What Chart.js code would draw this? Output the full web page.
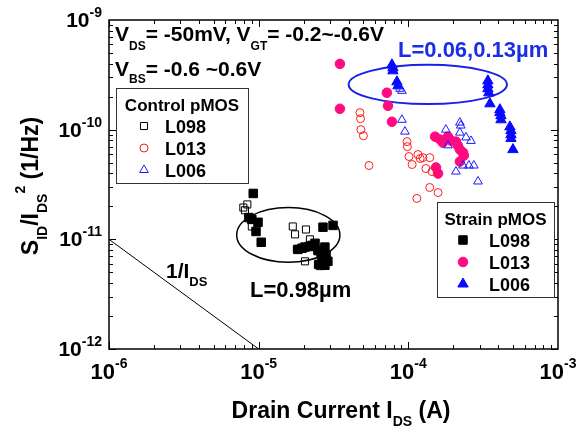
<!DOCTYPE html>
<html>
<head>
<meta charset="utf-8">
<script src="https://cdn.jsdelivr.net/npm/chart.js@4.4.0/dist/chart.umd.min.js"></script>
<style>
  html, body { margin: 0; padding: 0; background: #fff; }
  #wrap { width: 583px; height: 432px; }
</style>
</head>
<body>
<div id="wrap"><canvas id="noiseChart" width="583" height="432"></canvas></div>
<script>
// --- axis ranges / tick labels (decade exponents) ---
const xMin = 1e-6, xMax = 1e-3;
const yMin = 1e-12, yMax = 1e-9;
const xTickExps = [-6, -5, -4, -3];
const yTickExps = [-9, -10, -11, -12];

// --- Control pMOS (open markers) ---
const ctrlL098_I = [8.4e-6, 7.9e-6, 8.1e-6, 9.0e-6, 1.69e-5, 1.75e-5, 2.07e-5, 2.20e-5, 1.80e-5, 2.04e-5, 2.49e-5, 2.57e-5];
const ctrlL098_S = [2.08e-11, 1.95e-11, 1.84e-11, 1.31e-11, 1.31e-11, 1.11e-11, 1.23e-11, 1.0e-11, 8.1e-12, 6.3e-12, 5.9e-12, 5.7e-12];

const ctrlL013_I = [4.75e-5, 4.79e-5, 4.82e-5, 5.01e-5, 5.46e-5, 9.8e-5, 9.86e-5, 1.01e-4, 1.06e-4, 1.16e-4, 1.20e-4, 1.25e-4, 1.39e-4, 1.31e-4, 1.44e-4, 1.39e-4, 1.58e-4, 1.14e-4];
const ctrlL013_S = [1.43e-10, 1.26e-10, 1.0e-10, 8.8e-11, 4.71e-11, 7.78e-11, 7.0e-11, 5.69e-11, 4.81e-11, 5.93e-11, 5.45e-11, 5.56e-11, 5.56e-11, 4.42e-11, 4.15e-11, 2.97e-11, 2.67e-11, 2.36e-11];

const ctrlL006_I = [8.8e-5, 9.06e-5, 9.06e-5, 9.49e-5, 1.78e-4, 2.21e-4, 2.24e-4, 2.21e-4, 2.43e-4, 2.62e-4, 1.84e-4, 2.08e-4, 2.32e-4, 2.54e-4, 2.74e-4, 2.92e-4];
const ctrlL006_S = [2.36e-10, 2.26e-10, 1.23e-10, 9.6e-11, 1.0e-10, 1.16e-10, 1.09e-10, 9.4e-11, 8.5e-11, 7.9e-11, 7.2e-11, 4.15e-11, 4.71e-11, 4.71e-11, 4.71e-11, 3.37e-11];

// --- Strain pMOS (filled markers) ---
const strL098_I = [9.2e-6, 8.6e-6, 9.0e-6, 9.9e-6, 9.6e-6, 1.04e-5, 2.69e-5, 3.14e-5, 1.83e-5, 1.95e-5, 2.04e-5, 2.17e-5, 2.27e-5, 2.38e-5, 2.49e-5, 2.61e-5, 2.77e-5, 2.82e-5, 2.65e-5, 2.90e-5, 2.53e-5, 2.77e-5];
const strL098_S = [2.62e-11, 1.58e-11, 1.52e-11, 1.43e-11, 1.18e-11, 9.4e-12, 1.29e-11, 1.34e-11, 8.1e-12, 8.3e-12, 8.5e-12, 8.6e-12, 8.8e-12, 9.2e-12, 7.9e-12, 7.6e-12, 8.5e-12, 7.2e-12, 6.6e-12, 6.3e-12, 5.9e-12, 5.8e-12];

const strL013_I = [3.49e-5, 3.49e-5, 7.19e-5, 7.31e-5, 7.77e-5, 1.51e-4, 1.63e-4, 1.70e-4, 1.84e-4, 1.93e-4, 2.08e-4, 2.14e-4, 2.21e-4, 2.32e-4, 2.35e-4, 2.21e-4, 1.53e-4, 1.58e-4];
const strL013_S = [3.98e-10, 1.55e-10, 2.17e-10, 1.65e-10, 1.18e-10, 8.63e-11, 8.11e-11, 7.62e-11, 8.63e-11, 7.94e-11, 7.78e-11, 7.16e-11, 6.58e-11, 6.18e-11, 5.81e-11, 5.12e-11, 4.52e-11, 3.98e-11];

const strL006_I = [7.77e-5, 7.89e-5, 7.89e-5, 8.39e-5, 8.53e-5, 3.40e-4, 3.40e-4, 3.40e-4, 3.45e-4, 3.51e-4, 4.09e-4, 4.09e-4, 4.16e-4, 4.16e-4, 4.77e-4, 4.85e-4, 4.85e-4, 4.85e-4, 5.0e-4];
const strL006_S = [3.90e-10, 3.66e-10, 3.44e-10, 2.73e-10, 2.51e-10, 2.79e-10, 2.56e-10, 2.36e-10, 2.17e-10, 1.72e-10, 1.52e-10, 1.43e-10, 1.34e-10, 1.23e-10, 1.06e-10, 9.8e-11, 9.0e-11, 8.3e-11, 6.58e-11];

// 1/I_DS reference slope
const invLine_I = [1e-6, 1e-5];
const invLine_S = [1e-11, 1e-12];

const FONT = '"Liberation Sans", Arial, Helvetica, sans-serif';
const font = px => `bold ${px}px ${FONT}`;
const toPts = (xs, ys) => xs.map((x, i) => ({ x, y: ys[i] }));

// draws a run of text pieces [text, size, dy] one after another
const drawRich = (ctx, parts, x, y, align = 'left') => {
    let total = 0;
    parts.forEach(p => { ctx.font = font(p[1]); total += ctx.measureText(p[0]).width; });
    let cx = align === 'center' ? x - total / 2 : align === 'right' ? x - total : x;
    ctx.textAlign = 'left';
    ctx.textBaseline = 'alphabetic';
    parts.forEach(p => {
        ctx.font = font(p[1]);
        ctx.fillText(p[0], cx, y + (p[2] || 0));
        cx += ctx.measureText(p[0]).width;
    });
};

// same geometry as Chart.js point styles
const drawMarker = (ctx, style, r, x, y, fill, stroke, lw) => {
    ctx.beginPath();
    if (style === 'circle') {
        ctx.arc(x, y, r, 0, Math.PI * 2);
    } else if (style === 'rect') {
        const s = Math.SQRT1_2 * r;
        ctx.rect(x - s, y - s, 2 * s, 2 * s);
    } else {
        for (let k = 0; k < 3; k++) {
            const a = k * 2 * Math.PI / 3;
            const px = x + Math.sin(a) * r, py = y - Math.cos(a) * r;
            k === 0 ? ctx.moveTo(px, py) : ctx.lineTo(px, py);
        }
        ctx.closePath();
    }
    ctx.fillStyle = fill;
    ctx.fill();
    ctx.lineWidth = lw;
    ctx.strokeStyle = stroke;
    ctx.stroke();
};

const series = [
    { label: 'L098', group: 'ctrl', I: ctrlL098_I, S: ctrlL098_S, style: 'rect', r: 5, fill: 'rgba(255,255,255,0)', stroke: '#000', lw: 1 },
    { label: 'L013', group: 'ctrl', I: ctrlL013_I, S: ctrlL013_S, style: 'circle', r: 4, fill: 'rgba(255,255,255,0)', stroke: '#ff1a1a', lw: 1 },
    { label: 'L006', group: 'ctrl', I: ctrlL006_I, S: ctrlL006_S, style: 'triangle', r: 5, fill: 'rgba(255,255,255,0)', stroke: '#1a1aff', lw: 1 },
    { label: 'L098', group: 'strain', I: strL098_I, S: strL098_S, style: 'rect', r: 6, fill: '#000', stroke: '#000', lw: 1 },
    { label: 'L013', group: 'strain', I: strL013_I, S: strL013_S, style: 'circle', r: 4.8, fill: '#ff0a80', stroke: '#ff0a80', lw: 1 },
    { label: 'L006', group: 'strain', I: strL006_I, S: strL006_S, style: 'triangle', r: 6, fill: '#0a0aff', stroke: '#0a0aff', lw: 1 }
];

const datasets = series.map(s => ({
    type: 'scatter',
    label: s.group + ' ' + s.label,
    data: toPts(s.I, s.S),
    pointStyle: s.style,
    pointRadius: s.r,
    pointBackgroundColor: s.fill,
    pointBorderColor: s.stroke,
    pointBorderWidth: s.lw,
    order: s.group === 'ctrl' ? 0 : 1
}));

datasets.push({
    type: 'line',
    label: '1/I_DS',
    data: toPts(invLine_I, invLine_S),
    borderColor: '#000',
    borderWidth: 1,
    pointRadius: 0,
    fill: false,
    order: 2
});

// frame, inward ticks, labels, ellipses, notes and the two legend boxes
const decorPlugin = {
    id: 'decor',
    beforeDatasetsDraw(chart) {
        const { ctx, scales: { x, y } } = chart;
        const ellipse = (x1, x2, y1, y2, color, lw) => {
            const px1 = x.getPixelForValue(x1), px2 = x.getPixelForValue(x2);
            const py1 = y.getPixelForValue(y1), py2 = y.getPixelForValue(y2);
            ctx.save();
            ctx.beginPath();
            ctx.ellipse((px1 + px2) / 2, (py1 + py2) / 2, Math.abs(px2 - px1) / 2, Math.abs(py2 - py1) / 2, 0, 0, Math.PI * 2);
            ctx.strokeStyle = color;
            ctx.lineWidth = lw;
            ctx.stroke();
            ctx.restore();
        };
        ellipse(7.13e-6, 3.49e-5, 1.95e-11, 6.18e-12, '#000', 1.5);
        ellipse(3.99e-5, 4.56e-4, 3.9e-10, 1.71e-10, '#1a22e8', 2);
    },
    afterDraw(chart) {
        const { ctx, chartArea: a, scales: { x, y } } = chart;
        ctx.save();
        ctx.fillStyle = '#000';
        ctx.strokeStyle = '#000';

        // inward ticks on all four sides
        ctx.lineWidth = 1;
        ctx.beginPath();
        for (let e = -6; e < -3; e++) {
            for (let m = 1; m < 10; m++) {
                const px = Math.round(x.getPixelForValue(m * Math.pow(10, e))) + 0.5;
                const len = m === 1 ? 7 : 4;
                ctx.moveTo(px, a.bottom); ctx.lineTo(px, a.bottom - len);
                ctx.moveTo(px, a.top); ctx.lineTo(px, a.top + len);
            }
        }
        for (let e = -12; e < -9; e++) {
            for (let m = 1; m < 10; m++) {
                const py = Math.round(y.getPixelForValue(m * Math.pow(10, e))) + 0.5;
                const len = m === 1 ? 7 : 4;
                ctx.moveTo(a.left, py); ctx.lineTo(a.left + len, py);
                ctx.moveTo(a.right, py); ctx.lineTo(a.right - len, py);
            }
        }
        ctx.stroke();

        // frame
        ctx.lineWidth = 1.5;
        ctx.strokeRect(a.left, a.top, a.right - a.left, a.bottom - a.top);

        // tick labels
        xTickExps.forEach(e => {
            const px = x.getPixelForValue(Math.pow(10, e));
            drawRich(ctx, [['10', 22], [String(e), 14, -11]], px, a.bottom + 30, 'center');
        });
        yTickExps.forEach(e => {
            const py = y.getPixelForValue(Math.pow(10, e));
            drawRich(ctx, [['10', 21], [String(e), 14, -10]], a.left - 7, py + 7, 'right');
        });

        // axis titles
        drawRich(ctx, [['Drain Current I', 23], ['DS', 14, 8], [' (A)', 23]], 341, 418, 'center');
        ctx.save();
        ctx.translate(38, 186);
        ctx.rotate(-Math.PI / 2);
        drawRich(ctx, [['S', 23], ['ID', 14, 9], ['/I', 23], ['DS', 14, 9], ['2', 14, -13], [' (1/Hz)', 23]], 0, 0, 'center');
        ctx.restore();

        // notes inside the plot
        drawRich(ctx, [['V', 21], ['DS', 12, 8.5], ['= -50mV, V', 21], ['GT', 12, 8.5], ['= -0.2~-0.6V', 21]], 115, 41);
        drawRich(ctx, [['V', 21], ['BS', 12, 7], ['= -0.6 ~0.6V', 21]], 115, 76);
        ctx.fillStyle = '#1a2ee8';
        drawRich(ctx, [['L=0.06,0.13\u00b5m', 22]], 398, 57);
        ctx.fillStyle = '#000';
        drawRich(ctx, [['L=0.98\u00b5m', 22]], 250, 297);
        drawRich(ctx, [['1/I', 21], ['DS', 13, 8]], 166, 278);

        // legend boxes
        const legendBox = (group, title, bx, by, bw, bh, mx, tx, rowY) => {
            ctx.fillStyle = '#fff';
            ctx.fillRect(bx, by, bw, bh);
            ctx.lineWidth = 1;
            ctx.strokeStyle = '#333';
            ctx.strokeRect(bx + 0.5, by + 0.5, bw, bh);
            ctx.fillStyle = '#000';
            drawRich(ctx, [[title, 17]], bx + bw / 2, by + 23, 'center');
            series.filter(s => s.group === group).forEach((s, i) => {
                const cy = rowY + i * 22;
                drawMarker(ctx, s.style, s.r, mx, cy, s.fill, s.stroke, s.lw);
                ctx.fillStyle = '#000';
                drawRich(ctx, [[s.label, 18]], tx, cy + 6.5);
            });
        };
        legendBox('ctrl', 'Control pMOS', 116, 88, 132, 95, 144, 165, 126);
        legendBox('strain', 'Strain pMOS', 437, 202, 117, 95, 463, 489, 240);

        ctx.restore();
    }
};

new Chart(document.getElementById('noiseChart'), {
    type: 'scatter',
    data: { datasets },
    options: {
        responsive: false,
        animation: false,
        layout: { padding: { left: 109, right: 25, top: 20, bottom: 83 } },
        scales: {
            x: { type: 'logarithmic', min: xMin, max: xMax, display: false },
            y: { type: 'logarithmic', min: yMin, max: yMax, display: false }
        },
        plugins: {
            legend: { display: false },
            tooltip: { enabled: false }
        }
    },
    plugins: [decorPlugin]
});
</script>
</body>
</html>
